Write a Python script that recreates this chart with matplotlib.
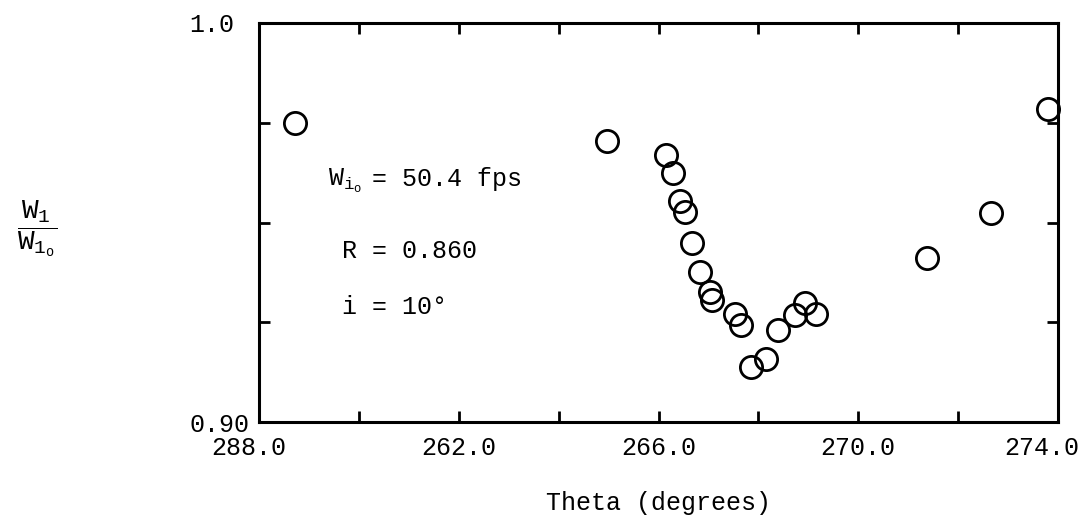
import numpy as np
import matplotlib
matplotlib.use("Agg")
import matplotlib.pyplot as plt
import matplotlib.transforms as mtransforms

# typewriter look
plt.rcParams['font.family'] = ['Liberation Mono', 'DejaVu Sans Mono']
plt.rcParams['mathtext.fontset'] = 'custom'
plt.rcParams['mathtext.rm'] = 'Liberation Mono'
plt.rcParams['mathtext.it'] = 'Liberation Mono'

# data
theta = [258.72, 264.96, 266.16, 266.30, 266.44, 266.54, 266.68, 266.84,
         267.04, 267.08, 267.54, 267.66, 267.86, 268.16, 268.40, 268.74,
         268.94, 269.16, 271.38, 272.66, 273.80]
w_ratio = [0.9750, 0.9704, 0.9669, 0.9624, 0.9554, 0.9526, 0.9449, 0.9376,
           0.9326, 0.9306, 0.9271, 0.9243, 0.9138, 0.9158, 0.9231, 0.9268,
           0.9298, 0.9271, 0.9411, 0.9524, 0.9784]

x_ticks = [258, 260, 262, 264, 266, 268, 270, 272, 274]
x_labels = ['288.0', '', '262.0', '', '266.0', '', '270.0', '', '274.0']
y_ticks = [0.900, 0.925, 0.950, 0.975, 1.000]
y_labels = ['0.90', '', '', '', '1.0']

W, H = 1087, 531
fig = plt.figure(figsize=(W / 100, H / 100), dpi=100)
ax = fig.add_axes([259 / W, 1 - 422 / H, (1058 - 259) / W, (422 - 23) / H])

ax.plot(theta, w_ratio, linestyle='none', marker='o', ms=16, mfc='none',
        mec='black', mew=2, clip_on=False)

ax.set_xlim(258, 274)
ax.set_ylim(0.90, 1.0)
ax.set_xticks(x_ticks)
ax.set_xticklabels(x_labels, fontsize=18)
ax.set_yticks(y_ticks)
ax.set_yticklabels(y_labels, fontsize=18)
for lab in ax.get_yticklabels():
    lab.set_ha('left')

ax.tick_params(axis='both', direction='in', length=8, width=2,
               top=True, right=True)
ax.tick_params(axis='x', pad=10)
ax.tick_params(axis='y', pad=50)
for sp in ax.spines.values():
    sp.set_linewidth(2.2)

# the typed labels sit a little left of the end ticks
xlabs = ax.get_xticklabels()
xlabs[0].set_transform(xlabs[0].get_transform() +
                       mtransforms.ScaledTranslation(-10 / 100, 0, fig.dpi_scale_trans))
xlabs[-1].set_transform(xlabs[-1].get_transform() +
                        mtransforms.ScaledTranslation(-16 / 100, 0, fig.dpi_scale_trans))

# axis titles
fig.text(658 / W, 1 - 503 / H, 'Theta (degrees)', fontsize=18,
         ha='center', va='center')
fig.text(37 / W, 1 - 229 / H, r'$\dfrac{\mathrm{W_1}}{\mathrm{W_{1_o}}}$',
         fontsize=20, ha='center', va='center')

# run conditions
fig.text(362 / W, 1 - 186 / H, r'W$_{\mathrm{i_o}}$', fontsize=18,
         ha='right', va='baseline')
fig.text(372 / W, 1 - 186 / H, '= 50.4 fps', fontsize=18,
         ha='left', va='baseline')
fig.text(342 / W, 1 - 258 / H, 'R = 0.860', fontsize=18,
         ha='left', va='baseline')
fig.text(342 / W, 1 - 314 / H, 'i = 10°', fontsize=18,
         ha='left', va='baseline')

fig.savefig('out.png', dpi=100, facecolor='white')
